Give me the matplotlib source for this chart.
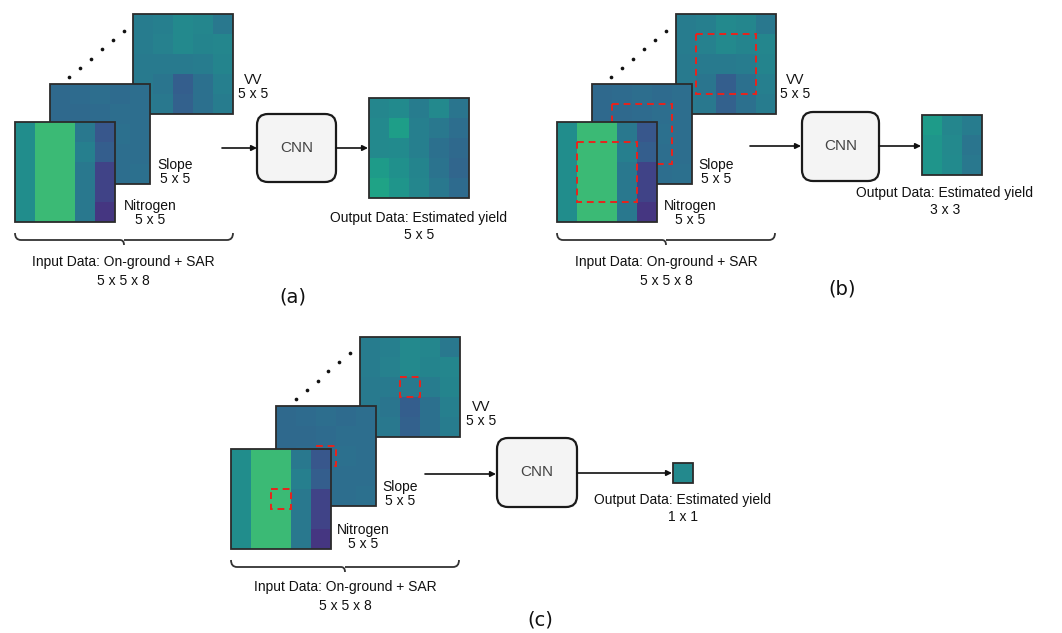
import numpy as np
import matplotlib
matplotlib.use("Agg")
import matplotlib.pyplot as plt
from matplotlib.patches import Rectangle, FancyBboxPatch, PathPatch
from matplotlib.path import Path

# ---- data (viridis-scaled values, 0..1) ----
nitrogen = [[0.49, 0.68, 0.68, 0.40, 0.27],
            [0.49, 0.68, 0.68, 0.43, 0.30],
            [0.49, 0.68, 0.68, 0.40, 0.20],
            [0.49, 0.68, 0.68, 0.40, 0.20],
            [0.49, 0.68, 0.68, 0.40, 0.16]]
slope = [[0.34, 0.35, 0.36, 0.35, 0.36],
         [0.34, 0.34, 0.35, 0.36, 0.36],
         [0.34, 0.35, 0.36, 0.37, 0.36],
         [0.35, 0.35, 0.36, 0.36, 0.36],
         [0.34, 0.35, 0.36, 0.36, 0.37]]
vv = [[0.42, 0.43, 0.47, 0.46, 0.40],
      [0.42, 0.44, 0.47, 0.45, 0.46],
      [0.41, 0.41, 0.41, 0.42, 0.45],
      [0.41, 0.39, 0.30, 0.37, 0.43],
      [0.41, 0.40, 0.31, 0.37, 0.42]]
out5 = [[0.46, 0.48, 0.42, 0.47, 0.39],
        [0.47, 0.56, 0.43, 0.40, 0.36],
        [0.47, 0.48, 0.43, 0.37, 0.34],
        [0.55, 0.50, 0.45, 0.38, 0.33],
        [0.58, 0.52, 0.46, 0.40, 0.35]]
out3 = [[0.55, 0.46, 0.42],
        [0.52, 0.47, 0.39],
        [0.52, 0.48, 0.40]]
out1 = [[0.47]]

layer_names = ["VV", "Slope", "Nitrogen"]
size_label = "5 x 5"
input_label = ["Input Data: On-ground + SAR", "5 x 5 x 8"]
output_title = "Output Data: Estimated yield"
output_sizes = ["5 x 5", "3 x 3", "1 x 1"]
panel_labels = ["(a)", "(b)", "(c)"]
window_sizes = [0, 3, 1]

W, H = 1062, 633
fig = plt.figure(figsize=(W / 100, H / 100), dpi=100)
ax = fig.add_axes([0, 0, 1, 1])
ax.set_xlim(0, W)
ax.set_ylim(H, 0)
ax.axis("off")

cmap = plt.get_cmap("viridis")
CELL = 20
FONT = "Liberation Sans"
EDGE = "#2b2b2b"


def grid(data, x0, y0, z=1):
    arr = np.array(data)
    n_r, n_c = arr.shape
    ax.imshow(arr, cmap=cmap, vmin=0, vmax=1, extent=(x0, x0 + n_c * CELL, y0 + n_r * CELL, y0),
              origin="upper", aspect="auto", interpolation="nearest", zorder=z)
    ax.add_patch(Rectangle((x0, y0), n_c * CELL, n_r * CELL, fill=False, ec=EDGE, lw=1.3, zorder=z + 0.1))


def window(x0, y0, k, z):
    if k == 0:
        return
    off = (5 - k) / 2 * CELL
    ax.add_patch(Rectangle((x0 + off, y0 + off), k * CELL, k * CELL, fill=False, ec="#e8231c",
                           lw=1.4, ls=(0, (3.5, 2.5)), zorder=z + 0.2))


def txt(x, y, s, size=10, color="#111111", family=FONT):
    ax.text(x, y, s, ha="center", va="center", fontsize=size, color=color, family=family, zorder=10)


def brace(x0, x1, y):
    xm = (x0 + x1) / 2
    verts = [(x0, y - 7), (x0, y), (x0 + 6, y), (xm - 4, y), (xm, y), (xm, y + 5),
             (xm, y), (xm + 4, y), (x1 - 6, y), (x1, y), (x1, y - 7)]
    codes = [Path.MOVETO, Path.CURVE3, Path.CURVE3, Path.LINETO, Path.CURVE3, Path.CURVE3,
             Path.MOVETO, Path.CURVE3, Path.LINETO, Path.CURVE3, Path.CURVE3]
    ax.add_patch(PathPatch(Path(verts, codes), fill=False, ec="#333333", lw=1.3, zorder=5))


def arrow(x0, x1, y):
    ax.annotate("", xy=(x1, y), xytext=(x0, y),
                arrowprops=dict(arrowstyle="-|>", color="#111111", lw=1.2, mutation_scale=8,
                                shrinkA=0, shrinkB=0), zorder=6)


def cnn(x0, x1, y0, y1):
    ax.add_patch(FancyBboxPatch((x0, y0), x1 - x0, y1 - y0, boxstyle="round,pad=0,rounding_size=11",
                                fc="#f4f4f4", ec="#1a1a1a", lw=1.6, zorder=5))
    txt((x0 + x1) / 2, (y0 + y1) / 2, "CNN", size=11, color="#444444")


panels = [
    dict(nit=(15, 122), slo=(50, 84), vvp=(133, 14),
         dots=((69, 77), (124, 31)),
         vvl=(253, 80), slol=(175, 165), nitl=(150, 206),
         brace=(15, 233, 240), inl=(123, 262),
         arr_in=(222, 257, 148), box=(257, 336, 114, 182), arr_out=(336, 368, 148),
         out=(369, 98), outdata=out5, outl=(419, 218), pl=(293, 297)),
    dict(nit=(557, 122), slo=(592, 84), vvp=(676, 14),
         dots=((611, 77), (666, 31)),
         vvl=(795, 80), slol=(716, 165), nitl=(690, 206),
         brace=(557, 775, 240), inl=(666, 262),
         arr_in=(750, 801, 146), box=(802, 879, 112, 181), arr_out=(879, 921, 146),
         out=(922, 115), outdata=out3, outl=(945, 193), pl=(842, 289)),
    dict(nit=(231, 449), slo=(276, 406), vvp=(360, 337),
         dots=((296, 399), (350, 353)),
         vvl=(481, 407), slol=(400, 487), nitl=(363, 530),
         brace=(231, 459, 567), inl=(345, 587),
         arr_in=(425, 496, 474), box=(497, 577, 438, 507), arr_out=(577, 672, 473),
         out=(673, 463), outdata=out1, outl=(683, 500), pl=(540, 620)),
]

for i, p in enumerate(panels):
    k = window_sizes[i]
    grid(vv, *p["vvp"], z=1)
    window(*p["vvp"], k, 1)
    grid(slope, *p["slo"], z=2)
    window(*p["slo"], k, 2)
    grid(nitrogen, *p["nit"], z=3)
    window(*p["nit"], k, 3)
    (dx0, dy0), (dx1, dy1) = p["dots"]
    ax.scatter(np.linspace(dx0, dx1, 6), np.linspace(dy0, dy1, 6), s=7, color="#111111",
               linewidths=0, zorder=4)

    txt(p["vvl"][0], p["vvl"][1], layer_names[0])
    txt(p["vvl"][0], p["vvl"][1] + 14, size_label)
    txt(p["slol"][0], p["slol"][1], layer_names[1])
    txt(p["slol"][0], p["slol"][1] + 14, size_label)
    txt(p["nitl"][0], p["nitl"][1], layer_names[2])
    txt(p["nitl"][0], p["nitl"][1] + 14, size_label)

    brace(*p["brace"])
    txt(p["inl"][0], p["inl"][1], input_label[0])
    txt(p["inl"][0], p["inl"][1] + 19, input_label[1])

    arrow(*p["arr_in"])
    cnn(*p["box"])
    arrow(*p["arr_out"])
    grid(p["outdata"], *p["out"], z=3)
    txt(p["outl"][0], p["outl"][1], output_title)
    txt(p["outl"][0], p["outl"][1] + 17, output_sizes[i])

    txt(p["pl"][0], p["pl"][1], panel_labels[i], size=14, color="#111111", family="DejaVu Sans")

fig.savefig("out.png", dpi=100)
